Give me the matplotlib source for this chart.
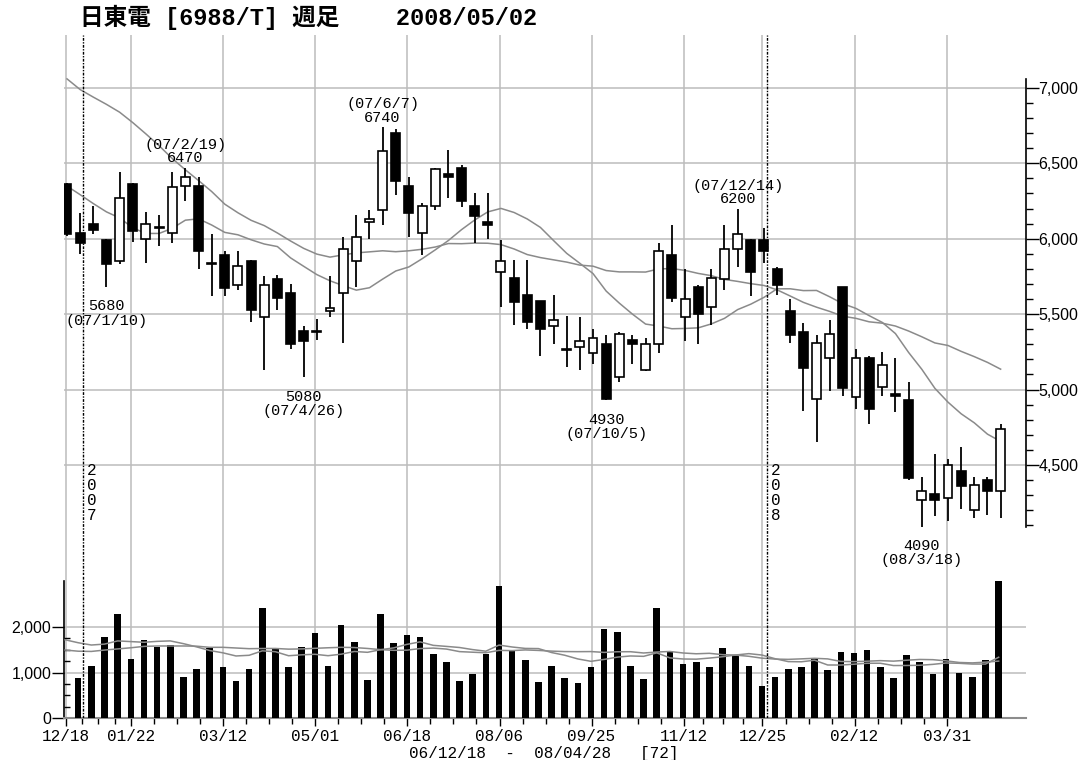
import matplotlib
matplotlib.use('Agg')
import matplotlib.pyplot as plt
import numpy as np

plt.rcParams['font.family'] = ['Liberation Sans', 'DejaVu Sans']

# weekly bars 06/12/18 - 08/04/28 (72 weeks)
opens = [6360, 6040, 6100, 5990, 5850, 6360, 6000, 6070, 6040, 6350,
         6350, 5830, 5890, 5690, 5850, 5480, 5730, 5640, 5390, 5380,
         5520, 5640, 5850, 6110, 6190, 6700, 6350, 6040, 6220, 6430,
         6470, 6220, 6110, 5780, 5740, 5630, 5590, 5420, 5260, 5280,
         5240, 5300, 5080, 5330, 5130, 5300, 5890, 5480, 5680, 5550,
         5730, 5930, 5990, 5990, 5800, 5520, 5380, 4940, 5210, 5680,
         4950, 5210, 5020, 4970, 4930, 4270, 4310, 4280, 4460, 4200,
         4400, 4330]
highs = [6370, 6170, 6220, 6000, 6440, 6370, 6180, 6160, 6440, 6470,
         6410, 6030, 5920, 5920, 5860, 5750, 5760, 5700, 5420, 5470,
         5750, 6010, 6160, 6190, 6740, 6730, 6410, 6240, 6470, 6590,
         6490, 6300, 6300, 5990, 5860, 5860, 5590, 5630, 5490, 5480,
         5400, 5360, 5380, 5360, 5340, 5970, 6090, 5800, 5690, 5800,
         6090, 6200, 6000, 6070, 5810, 5600, 5440, 5360, 5460, 5680,
         5270, 5220, 5250, 5210, 5050, 4420, 4570, 4540, 4620, 4420,
         4420, 4770]
lows = [6020, 5900, 6030, 5680, 5830, 5980, 5840, 5950, 5970, 6250,
        5800, 5620, 5620, 5660, 5450, 5130, 5530, 5270, 5080, 5330,
        5480, 5310, 5680, 6000, 6090, 6290, 6010, 5890, 6190, 6270,
        6210, 5970, 6000, 5550, 5430, 5400, 5220, 5300, 5150, 5130,
        5170, 4930, 5050, 5170, 5120, 5240, 5580, 5320, 5300, 5430,
        5660, 5810, 5620, 5840, 5630, 5310, 4860, 4650, 4990, 4960,
        4870, 4770, 4960, 4850, 4400, 4090, 4160, 4130, 4210, 4150,
        4170, 4150]
closes = [6030, 5970, 6060, 5830, 6270, 6050, 6100, 6080, 6340, 6410,
          5920, 5840, 5670, 5820, 5530, 5690, 5610, 5300, 5320, 5390,
          5540, 5930, 6010, 6130, 6580, 6380, 6170, 6220, 6460, 6410,
          6250, 6150, 6090, 5850, 5580, 5450, 5400, 5460, 5270, 5320,
          5340, 4940, 5370, 5300, 5300, 5920, 5610, 5600, 5500, 5740,
          5930, 6030, 5780, 5920, 5690, 5360, 5140, 5310, 5370, 5010,
          5210, 4870, 5160, 4960, 4410, 4330, 4270, 4500, 4360, 4370,
          4330, 4740]
# first week's volume is not shown on the chart
volume = [np.nan, 870, 1150, 1780, 2270, 1300, 1720, 1550, 1610, 900,
          1070, 1530, 1130, 815, 1070, 2400, 1540, 1130, 1560, 1870,
          1150, 2040, 1670, 845, 2270, 1640, 1810, 1780, 1410, 1240,
          815, 960, 1410, 2890, 1490, 1270, 786, 1150, 873, 764,
          1110, 1950, 1890, 1150, 851, 2400, 1460, 1190, 1220, 1110,
          1530, 1370, 1150, 706, 902, 1070, 1110, 1290, 1055, 1440,
          1420, 1490, 1110, 873, 1380, 1220, 960, 1300, 982, 895,
          1270, 3000]

# moving averages as drawn (13 / 26 weeks)
ma13 = [6349, 6292, 6233, 6178, 6138, 6072, 6035, 6035, 6069, 6123,
        6132, 6091, 6042, 6026, 5993, 5965, 5948, 5873, 5817, 5762,
        5721, 5689, 5659, 5675, 5732, 5786, 5813, 5867, 5926, 5988,
        6060, 6124, 6178, 6201, 6174, 6131, 6075, 5988, 5903, 5837,
        5769, 5653, 5573, 5500, 5434, 5421, 5403, 5405, 5409, 5435,
        5472, 5530, 5566, 5611, 5668, 5668, 5656, 5657, 5615, 5569,
        5538, 5490, 5445, 5371, 5246, 5135, 5008, 4916, 4839, 4779,
        4704, 4656]
ma26 = [7060, 6989, 6939, 6891, 6839, 6770, 6695, 6617, 6532, 6457,
        6386, 6313, 6229, 6172, 6122, 6087, 6038, 5985, 5936, 5898,
        5878, 5893, 5906, 5913, 5920, 5914, 5920, 5930, 5945, 5968,
        5967, 5971, 5970, 5961, 5932, 5895, 5875, 5860, 5845, 5825,
        5818, 5789, 5780, 5780, 5779, 5800, 5802, 5790, 5770, 5755,
        5730, 5717, 5702, 5690, 5661, 5620, 5578, 5546, 5518, 5486,
        5472, 5449, 5440, 5421, 5388, 5350, 5309, 5292, 5253, 5218,
        5180, 5135]
vma13 = [1715, 1650, 1600, 1620, 1690, 1675, 1660, 1680, 1690, 1630,
         1560, 1480, 1430, 1361, 1376, 1473, 1454, 1366, 1386, 1398,
         1367, 1400, 1459, 1441, 1498, 1538, 1614, 1669, 1593, 1570,
         1546, 1500, 1465, 1599, 1557, 1526, 1522, 1436, 1377, 1296,
         1244, 1286, 1336, 1361, 1353, 1429, 1319, 1295, 1291, 1315,
         1344, 1382, 1412, 1381, 1301, 1238, 1234, 1268, 1164, 1163,
         1181, 1202, 1202, 1152, 1153, 1158, 1178, 1208, 1201, 1185,
         1184, 1333]
vma26 = [1491, 1465, 1460, 1490, 1515, 1540, 1570, 1579, 1579, 1579,
         1575, 1550, 1550, 1535, 1520, 1524, 1525, 1510, 1515, 1528,
         1540, 1550, 1545, 1525, 1500, 1484, 1488, 1523, 1533, 1512,
         1456, 1443, 1431, 1483, 1478, 1493, 1482, 1467, 1457, 1455,
         1457, 1439, 1453, 1454, 1426, 1447, 1459, 1426, 1409, 1419,
         1390, 1380, 1354, 1313, 1293, 1287, 1298, 1310, 1297, 1241,
         1238, 1247, 1259, 1248, 1268, 1285, 1280, 1254, 1219, 1210,
         1226, 1249]

tick_weeks = [0, 5, 12, 19, 26, 33, 40, 47, 53, 60, 67]
tick_labels = ['12/18', '01/22', '03/12', '05/01', '06/18', '08/06',
               '09/25', '11/12', '12/25', '02/12', '03/31']

# (week, price, date, is_high)
marks = [(3, 5680, '(07/1/10)', False), (9, 6470, '(07/2/19)', True),
         (18, 5080, '(07/4/26)', False), (24, 6740, '(07/6/7)', True),
         (41, 4930, '(07/10/5)', False), (51, 6200, '(07/12/14)', True),
         (65, 4090, '(08/3/18)', False)]

year_weeks = [1, 53]   # last week before the new year
year_labels = ['2007', '2008']

title = '日東電 [6988/T] 週足    2008/05/02'
span_text = '06/12/18  -  08/04/28   [72]'

W, H = 1083, 760
fig = plt.figure(figsize=(W / 100, H / 100), dpi=100)


def px_box(x0, y0, x1, y1):
    return [x0 / W, 1 - y1 / H, (x1 - x0) / W, (y1 - y0) / H]


ax = fig.add_axes(px_box(64, 35, 1026, 575))
axv = fig.add_axes(px_box(64, 575, 1026, 718.3))

MONO = ['Liberation Mono', 'DejaVu Sans Mono']
grid_c = '#bcbcbc'
ma_c = '#8a8a8a'
wk = np.arange(len(closes))
tick_pos = np.array(tick_weeks) - 0.11

for a in (ax, axv):
    a.set_xlim(-0.23, 72.93)
    for s in a.spines.values():
        s.set_visible(False)
    a.set_axisbelow(True)
    a.set_xticks(tick_pos)
    a.grid(True, which='major', color=grid_c, lw=1.1)

# price panel
ax.set_ylim(3770, 7351)
ax.tick_params(axis='x', length=0, labelbottom=False)
ax.yaxis.tick_right()
ax.set_yticks(np.arange(4500, 7001, 500))
ax.set_yticklabels([f'{v:,}' for v in range(4500, 7001, 500)])
ax.set_yticks([v for v in range(4100, 7000, 100) if v % 500], minor=True)
ax.tick_params(axis='y', which='major', direction='out', length=9, width=1,
               pad=0, labelsize=11.5)
ax.tick_params(axis='y', which='minor', direction='out', length=5, width=1)
lo_all = min(min(lows), min(ma13), min(ma26))
hi_all = max(max(highs), max(ma13), max(ma26))
ax.spines['right'].set_visible(True)
ax.spines['right'].set_bounds(lo_all, hi_all)
ax.spines['right'].set_linewidth(1.2)

o, h, l, c = map(np.array, (opens, highs, lows, closes))
up = c >= o
ax.plot(wk, ma26, color=ma_c, lw=1.1, zorder=2)
ax.plot(wk, ma13, color=ma_c, lw=1.1, zorder=2)
ax.vlines(wk, l, h, color='black', lw=1.3, zorder=3)
ax.bar(wk, np.maximum(np.abs(c - o), 8), bottom=np.minimum(o, c), width=0.68,
       color=np.where(up, 'white', 'black'), edgecolor='black', lw=1.2,
       zorder=4)

for i, p, d, is_high in marks:
    sgn = 1 if is_high else -1
    n_off, d_off = (6.8, 16.4) if is_high else (14.0, 24.2)
    ax.annotate(str(p), xy=(i, p), xytext=(0, sgn * n_off),
                textcoords='offset points', ha='center', va='center',
                family=MONO, fontsize=11)
    ax.annotate(d, xy=(i, p), xytext=(0, sgn * d_off),
                textcoords='offset points', ha='center', va='center',
                family=MONO, fontsize=11)

for yw, yl in zip(year_weeks, year_labels):
    for a in (ax, axv):
        a.axvline(yw + 0.25, color='black', lw=1.0, ls=(0, (2, 1, 1, 1)),
                  zorder=5)
    ax.text(yw + 0.52, 4510, '\n'.join(yl), ha='left', va='top',
            fontsize=11.5, linespacing=0.98, family=MONO)

# volume panel
axv.set_ylim(0, 3129)
axv.bar(wk - 0.15, volume, width=0.5, color='black', zorder=3)
axv.plot(wk - 0.15, vma26, color=ma_c, lw=1.1, zorder=4)
axv.plot(wk - 0.15, vma13, color=ma_c, lw=1.1, zorder=4)
axv.set_yticks([0, 1000, 2000])
axv.set_yticklabels(['0', '1,000', '2,000'])
axv.set_yticks([250, 500, 750, 1250, 1500, 1750], minor=True)
axv.tick_params(axis='y', which='major', direction='out', length=9, width=1,
                pad=0, labelsize=11.5)
axv.tick_params(axis='y', which='minor', direction='in', length=4, width=1)
axv.spines['left'].set_visible(True)
axv.spines['left'].set_bounds(0, np.nanmax(volume))
axv.spines['left'].set_linewidth(1.2)
axv.spines['bottom'].set_visible(True)
axv.spines['bottom'].set_color('#8c8c8c')
axv.spines['bottom'].set_linewidth(1.5)

minor_x = []
for a0, b0 in zip(tick_pos[:-1], tick_pos[1:]):
    minor_x += list(a0 + (b0 - a0) * np.array([0.25, 0.5, 0.75]))
axv.set_xticks(minor_x, minor=True)
axv.set_xticklabels(tick_labels, family=MONO, fontsize=11.5)
axv.tick_params(axis='x', which='major', direction='out', length=6, width=1,
                pad=1.5, color='black')
axv.tick_params(axis='x', which='minor', direction='out', length=4, width=1,
                color='black')

fig.text(80 / W, 1 - 17 / H, title, ha='left', va='center', fontsize=17,
         fontweight='bold', family=['Liberation Mono', 'Noto Sans CJK JP'])
fig.text(544 / W, 1 - 753.5 / H, span_text, ha='center', va='center',
         fontsize=11.5, family=MONO)

fig.savefig('out.png', dpi=100)
